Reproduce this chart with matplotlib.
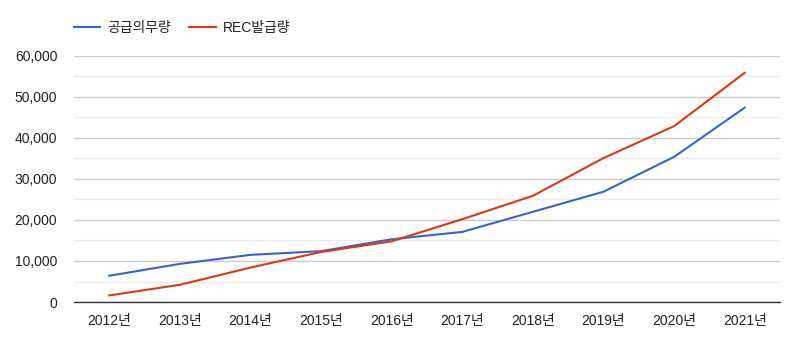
import matplotlib.pyplot as plt
from matplotlib.ticker import MultipleLocator, FuncFormatter

plt.rcParams['font.family'] = ['Liberation Sans', 'Noto Sans CJK KR']

years = ['2012년', '2013년', '2014년', '2015년', '2016년',
         '2017년', '2018년', '2019년', '2020년', '2021년']
# 공급의무량
obligation = [6400, 9300, 11500, 12400, 15300, 17100, 22000, 26900, 35400, 47400]
# REC발급량
rec_issued = [1600, 4200, 8400, 12200, 14800, 20200, 25900, 35100, 42900, 55900]

fig = plt.figure(figsize=(7.91, 3.49), dpi=100)
ax = fig.add_axes([74 / 791, 47 / 349, 706 / 791, 246 / 349])

x = range(len(years))
ax.plot(x, obligation, color='#3366cc', linewidth=1.5, label='공급의무량', zorder=3)
ax.plot(x, rec_issued, color='#dc3912', linewidth=1.5, label='REC발급량', zorder=3)

ax.set_xlim(-0.5, len(years) - 0.5)
ax.set_ylim(0, 60000)
ax.set_xticks(list(x))
ax.set_xticklabels(years)
ax.yaxis.set_major_locator(MultipleLocator(10000))
ax.yaxis.set_minor_locator(MultipleLocator(5000))
ax.yaxis.set_major_formatter(FuncFormatter(lambda v, p: f'{int(v):,}'))

# 격자선
ax.grid(axis='y', which='major', color='#cccccc', linewidth=1, zorder=0)
ax.grid(axis='y', which='minor', color='#ebebeb', linewidth=1, zorder=0)
ax.set_axisbelow(True)

for side in ['top', 'right', 'left']:
    ax.spines[side].set_visible(False)
ax.spines['bottom'].set_color('#333333')
ax.spines['bottom'].set_linewidth(1)

ax.tick_params(axis='both', which='both', length=0, labelsize=10, colors='#222222')
ax.tick_params(axis='y', pad=12)
ax.tick_params(axis='x', pad=9)

fig.legend(loc='upper left', bbox_to_anchor=(74 / 791, 1 - 21 / 349), ncol=2,
           frameon=False, fontsize=10, handlelength=1.9, handletextpad=0.5,
           columnspacing=1.3, labelcolor='#222222', borderpad=0, borderaxespad=0)

fig.savefig('out.png', dpi=100)
